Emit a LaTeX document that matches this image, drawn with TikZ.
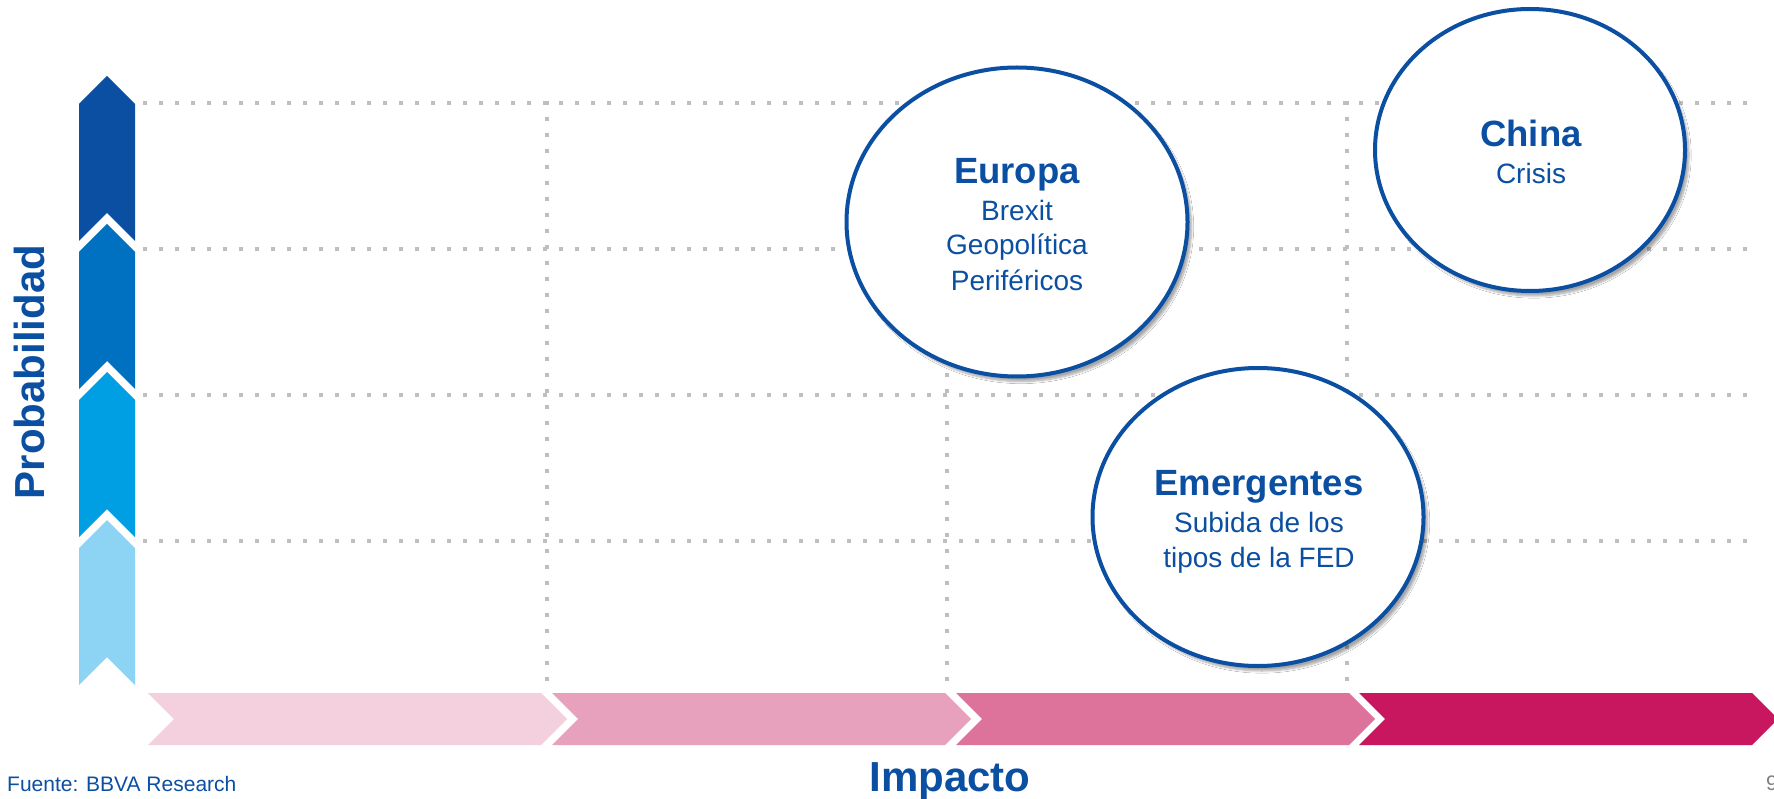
\documentclass[tikz,border=0pt]{standalone}
\usepackage{fontspec}
\setmainfont{Liberation Sans}
\usetikzlibrary{shapes.geometric,shadows.blur}
\definecolor{bblue}{RGB}{11,79,162}
\definecolor{vA}{RGB}{11,79,162}
\definecolor{vB}{RGB}{0,112,192}
\definecolor{vC}{RGB}{0,158,226}
\definecolor{vD}{RGB}{141,211,244}
\definecolor{hA}{RGB}{244,207,221}
\definecolor{hB}{RGB}{232,161,189}
\definecolor{hC}{RGB}{221,115,155}
\definecolor{hD}{RGB}{200,23,94}
\definecolor{gridgray}{RGB}{191,191,191}
\definecolor{pagegray}{RGB}{128,128,128}
\begin{document}
\begin{tikzpicture}[x=1pt,y=-1pt,
  gridline/.style={gridgray, line width=4pt, dash pattern=on 4pt off 12pt},
  bubble/.style={ellipse, draw=bblue, line width=4pt, fill=white, inner sep=0pt,
    blur shadow={shadow xshift=4pt, shadow yshift=-5pt, shadow opacity=35, shadow blur steps=8}},
  ttl/.style={font=\fontsize{36.5}{40}\selectfont\bfseries, text=bblue, inner sep=0pt, anchor=base},
  sub/.style={font=\fontsize{28}{32}\selectfont, text=bblue, inner sep=0pt, anchor=base},
  axislabel/.style={font=\fontsize{42}{48}\selectfont\bfseries, text=bblue, inner sep=0pt, anchor=base},
  smalltext/.style={font=\fontsize{21}{24}\selectfont, inner sep=0pt, anchor=base west}
]
\useasboundingbox (0,0) rectangle (1774,799);
\fill[white] (0,0) rectangle (1774,799);

% grid
\foreach \yy in {103,249,395,541} \draw[gridline] (143,\yy) -- (1757,\yy);
\foreach \xx in {547,947,1347} \draw[gridline] (\xx,101) -- (\xx,690);

% vertical chevrons
\foreach \t/\c in {76/vA,224/vB,372/vC,520/vD}
  \fill[\c] (79,\t+28) -- (107,\t) -- (135,\t+28) -- (135,\t+165) -- (107,\t+137) -- (79,\t+165) -- cycle;

% horizontal chevrons
\foreach \L/\c in {148/hA,552/hB,956/hC,1359/hD}
  \fill[\c] (\L,693) -- (\L+393,693) -- (\L+419,719) -- (\L+393,745) -- (\L,745) -- (\L+26,719) -- cycle;

% axis labels
\node[axislabel, rotate=90] (prob) at (44,372) {Probabilidad};
\node[axislabel] (imp) at (950,791) {Impacto};
\node[smalltext, text=bblue] (src) at (7,791) {Fuente: BBVA Research};
\node[smalltext, text=pagegray] (pg) at (1766,790) {9};

% bubbles
\node[bubble, minimum width=341pt, minimum height=309pt] (eur) at (1017,222) {};
\node[bubble, minimum width=310pt, minimum height=282pt] (chi) at (1530,150) {};
\node[bubble, minimum width=331pt, minimum height=298pt] (eme) at (1258,517) {};

% bubble texts
\node[ttl] (eurT) at (1017,184) {Europa};
\node[sub] (eur1) at (1017,221) {Brexit};
\node[sub] (eur2) at (1017,255) {Geopolítica};
\node[sub] (eur3) at (1017,291) {Periféricos};

\node[ttl] (chiT) at (1531,147) {China};
\node[sub] (chi1) at (1531,184) {Crisis};

\node[ttl] (emeT) at (1259,495) {Emergentes};
\node[sub] (eme1) at (1259,532) {Subida de los};
\node[sub] (eme2) at (1259,567) {tipos de la FED};
\end{tikzpicture}
\end{document}
